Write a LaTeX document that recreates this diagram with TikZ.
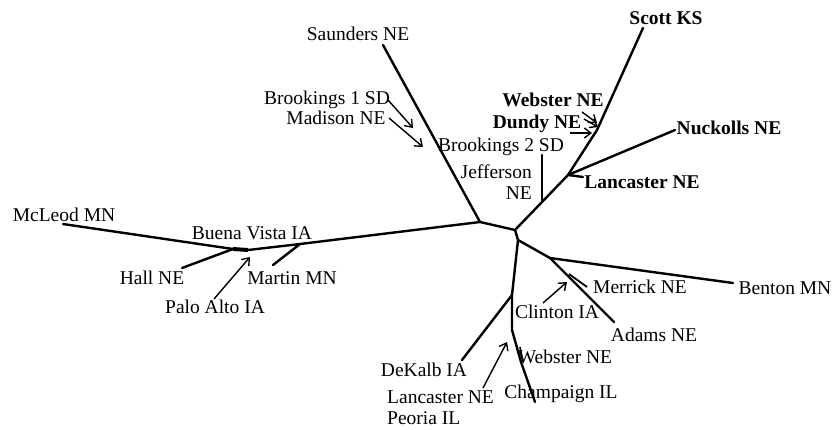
\documentclass[tikz,border=0pt]{standalone}
\usepackage{fontspec}
\setmainfont{Liberation Serif}
\usetikzlibrary{arrows.meta}
\begin{document}
\begin{tikzpicture}[x=1pt,y=-1pt,
  lbl/.style={font=\fontsize{19.5}{21.5}\selectfont,inner sep=0pt,anchor=base},
  blbl/.style={lbl,font=\fontsize{19.5}{21.5}\selectfont\bfseries},
  branch/.style={line width=2.4pt,line cap=round,line join=round},
  ptr/.style={line width=1.4pt,-{Straight Barb[length=6.5pt,width=10pt,line width=1.4pt]}}]
\useasboundingbox (0,0) rectangle (832,429);

% junctions and tips
\coordinate (J1) at (480,222);
\coordinate (J2) at (515,230);
\coordinate (J3) at (518,240);
\coordinate (tSaun) at (383,45);
\coordinate (Mj) at (300,244);
\coordinate (BVr) at (248,250);
\coordinate (BVl) at (233,249);
\coordinate (tMcL) at (63,224);
\coordinate (tHall) at (182,268);
\coordinate (tMart) at (273,265);
\coordinate (Jj) at (542,202);
\coordinate (Lj) at (568,175);
\coordinate (S1) at (597,130);
\coordinate (tScott) at (643,28);
\coordinate (tJeff) at (542,155);
\coordinate (tNuck) at (675,130);
\coordinate (tLanc) at (583,177);
\coordinate (Bj) at (550,258);
\coordinate (tBent) at (733,283);
\coordinate (tAdams) at (614,322);
\coordinate (Mr1) at (569,274);
\coordinate (Mr2) at (587,287);
\coordinate (Dj) at (512,295);
\coordinate (Cj) at (512,330);
\coordinate (C1) at (521,362);
\coordinate (tCham) at (535,402);
\coordinate (tDek) at (462,360);
\coordinate (W1) at (520,347);
\coordinate (W2) at (523,362);

% branches
\draw[branch] (tSaun) -- (J1);
\draw[branch] (J1) -- (Mj) -- (BVr);
\draw[line width=4pt] (BVr) -- (BVl);
\draw[branch] (BVl) -- (tMcL);
\draw[branch] (BVl) -- (tHall);
\draw[branch] (Mj) -- (tMart);
\draw[branch] (J1) -- (J2) -- (Jj) -- (Lj) -- (S1) -- (tScott);
\draw[branch] (Jj) -- (tJeff);
\draw[branch] (Lj) -- (tNuck);
\draw[branch] (Lj) -- (tLanc);
\draw[branch] (J2) -- (J3) -- (Bj) -- (tBent);
\draw[branch] (Bj) -- (tAdams);
\draw[line width=1.8pt] (Mr1) -- (Mr2);
\draw[branch] (J3) -- (Dj) -- (Cj) -- (C1) -- (tCham);
\draw[branch] (Dj) -- (tDek);
\draw[line width=1.6pt] (W1) -- (W2);

% labels
\node[lbl] (saun) at (358,40) {Saunders NE};
\node[lbl] (brk1) at (327,104) {Brookings 1 SD};
\node[lbl] (madi) at (336,124.5) {Madison NE};
\node[lbl] (brk2) at (501,151) {Brookings 2 SD};
\node[lbl,anchor=base east] (jef1) at (532,178) {Jefferson};
\node[lbl,anchor=base east] (jef2) at (532,199.5) {NE};
\node[blbl] (webb) at (553,106.5) {Webster NE};
\node[blbl] (dund) at (537,128.5) {Dundy NE};
\node[blbl] (scot) at (666,24.5) {Scott KS};
\node[blbl] (nuck) at (729,134.5) {Nuckolls NE};
\node[blbl] (lanb) at (642,188.5) {Lancaster NE};
\node[lbl] (mcle) at (64,221.5) {McLeod MN};
\node[lbl] (buen) at (252,239.5) {Buena Vista IA};
\node[lbl] (hall) at (152,284.5) {Hall NE};
\node[lbl] (mart) at (292,284.5) {Martin MN};
\node[lbl] (palo) at (215,313.5) {Palo Alto IA};
\node[lbl] (merr) at (640,293.5) {Merrick NE};
\node[lbl] (bent) at (785,294.5) {Benton MN};
\node[lbl] (clin) at (557,318.5) {Clinton IA};
\node[lbl] (adam) at (654,341.5) {Adams NE};
\node[lbl] (dek) at (424,376.5) {DeKalb IA};
\node[lbl] (webp) at (565,363) {Webster NE};
\node[lbl] (cham) at (561,398.5) {Champaign IL};
\node[lbl,anchor=base west] (lanp) at (387,403) {Lancaster NE};
\node[lbl,anchor=base west] (peor) at (387,424) {Peoria IL};

% pointer arrows
\coordinate (aB1s) at (388,100); \coordinate (aB1e) at (413,128);
\coordinate (aMas) at (389,118); \coordinate (aMae) at (423,147);
\coordinate (aWs) at (582,112); \coordinate (aWe) at (597,123);
\coordinate (aDs) at (584,119); \coordinate (aDe) at (598,127);
\coordinate (aB2s) at (570,133); \coordinate (aB2e) at (592,133);
\coordinate (aPs) at (214,299); \coordinate (aPe) at (250,257);
\coordinate (aLs) at (483,388); \coordinate (aLe) at (507,342);
\coordinate (aCs) at (543,303); \coordinate (aCe) at (567,282);
\draw[ptr] (aB1s) -- (aB1e);
\draw[ptr] (aMas) -- (aMae);
\draw[ptr] (aWs) -- (aWe);
\draw[ptr] (aDs) -- (aDe);
\draw[ptr] (aB2s) -- (aB2e);
\draw[ptr] (aPs) -- (aPe);
\draw[ptr] (aLs) -- (aLe);
\draw[ptr] (aCs) -- (aCe);
\end{tikzpicture}
\end{document}
